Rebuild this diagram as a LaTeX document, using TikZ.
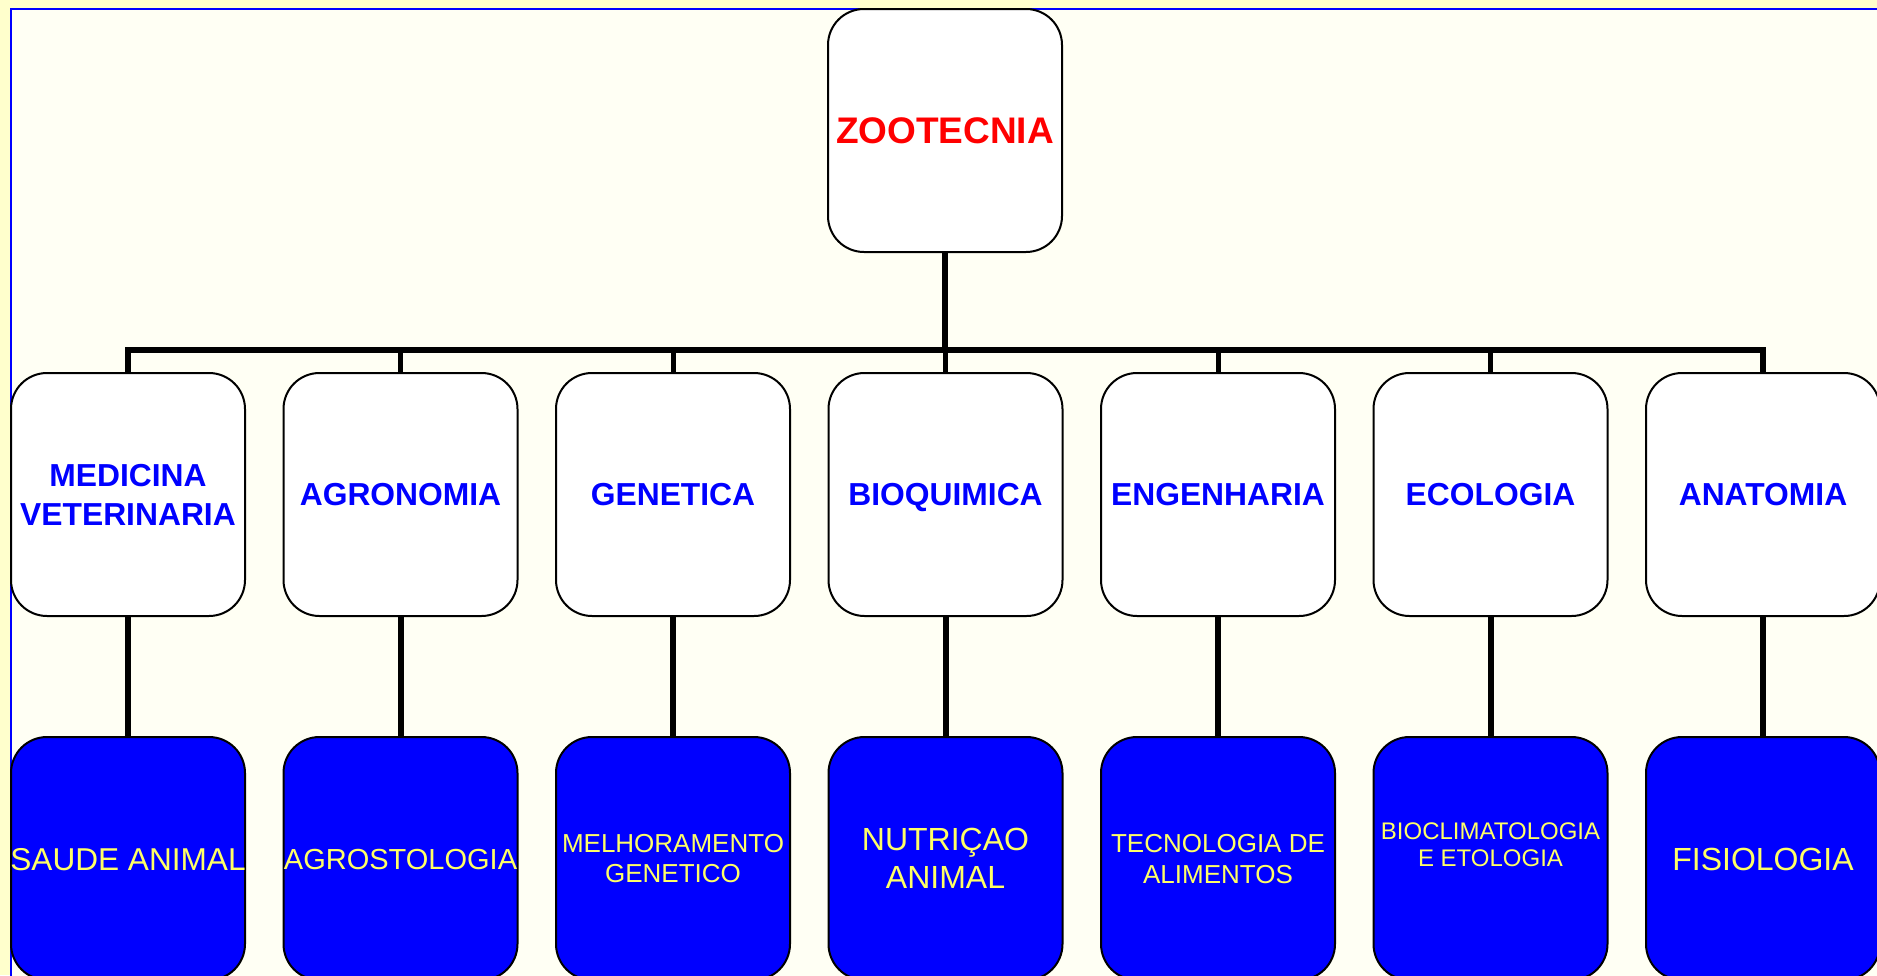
\documentclass[tikz,border=0pt]{standalone}
\usepackage{fontspec}
\setmainfont{Liberation Sans}
\definecolor{outerbg}{HTML}{FFFFCC}
\definecolor{innerbg}{HTML}{FFFFF4}
\definecolor{txtyellow}{HTML}{FFFF66}
\newcommand{\fsz}[2]{\fontsize{#1}{#2}\selectfont}
\begin{document}
\begin{tikzpicture}[x=1pt,y=-1pt,
  box/.style={draw=black, line width=2pt, rounded corners=36pt,
    minimum width=234pt, minimum height=243pt, inner sep=0pt, align=center, text depth=0pt},
  topbox/.style={box, fill=white, text=red, font=\bfseries\fsz{37}{44}},
  midbox/.style={box, fill=white, text=blue, font=\bfseries\fsz{31.8}{39}},
  botbox/.style={box, fill=blue},
  bottxt/.style={inner sep=0pt, align=center, text=txtyellow, text depth=0pt},
  conn/.style={line width=6pt, line join=miter},
  stub/.style={line width=5pt}]
\useasboundingbox (0,0) rectangle (1877,975);
\fill[outerbg] (0,0) rectangle (1877,975);
\draw[blue, line width=2pt, fill=innerbg] (11,9) rectangle (1920,1020);

% top
\node[topbox] (top) at (945,130.5) {ZOOTECNIA};

% middle row
\node[midbox] (m1) at (128,494.5) {MEDICINA\\VETERINARIA};
\node[midbox] (m2) at (400.5,494.5) {AGRONOMIA};
\node[midbox] (m3) at (673,494.5) {GENETICA};
\node[midbox] (m4) at (945.5,494.5) {BIOQUIMICA};
\node[midbox] (m5) at (1218,494.5) {ENGENHARIA};
\node[midbox] (m6) at (1490.5,494.5) {ECOLOGIA};
\node[midbox] (m7) at (1763,494.5) {ANATOMIA};

% bottom row
\node[botbox] (b1) at (128,858.5) {};
\node[botbox] (b2) at (400.5,858.5) {};
\node[botbox] (b3) at (673,858.5) {};
\node[botbox] (b4) at (945.5,858.5) {};
\node[botbox] (b5) at (1218,858.5) {};
\node[botbox] (b6) at (1490.5,858.5) {};
\node[botbox] (b7) at (1763,858.5) {};

\node[bottxt, font=\fsz{31.6}{38}] (l1) at ([yshift=-1pt]b1.center) {SAUDE ANIMAL};
\node[bottxt, font=\fsz{29}{35}] (l2) at ([yshift=-1pt]b2.center) {AGROSTOLOGIA};
\node[bottxt, font=\fsz{26}{30}] (l3) at (b3.center) {MELHORAMENTO\\GENETICO};
\node[bottxt, font=\fsz{32}{38}] (l4) at (b4.center) {NUTRIÇAO\\ANIMAL};
\node[bottxt, font=\fsz{26}{31}] (l5) at (b5.center) {TECNOLOGIA DE\\ALIMENTOS};
\node[bottxt, font=\fsz{24}{27.5}] (l6) at ([yshift=14pt]b6.center) {BIOCLIMATOLOGIA\\E ETOLOGIA};
\node[bottxt, font=\fsz{32}{38}] (l7) at ([yshift=-1pt]b7.center) {FISIOLOGIA};

% connectors
\coordinate (bary) at (0,350);
\draw[conn] (top.south) -- (top.south |- bary);
\draw[conn] (m1.north) -- (m1.north |- bary) -- (m7.north |- bary) -- (m7.north);
\foreach \i in {2,...,6} {
  \draw[stub] (m\i.north) -- (m\i.north |- bary);
}
\foreach \i in {1,...,7} {
  \draw[conn] (m\i.south) -- (b\i.north);
}
\end{tikzpicture}
\end{document}
